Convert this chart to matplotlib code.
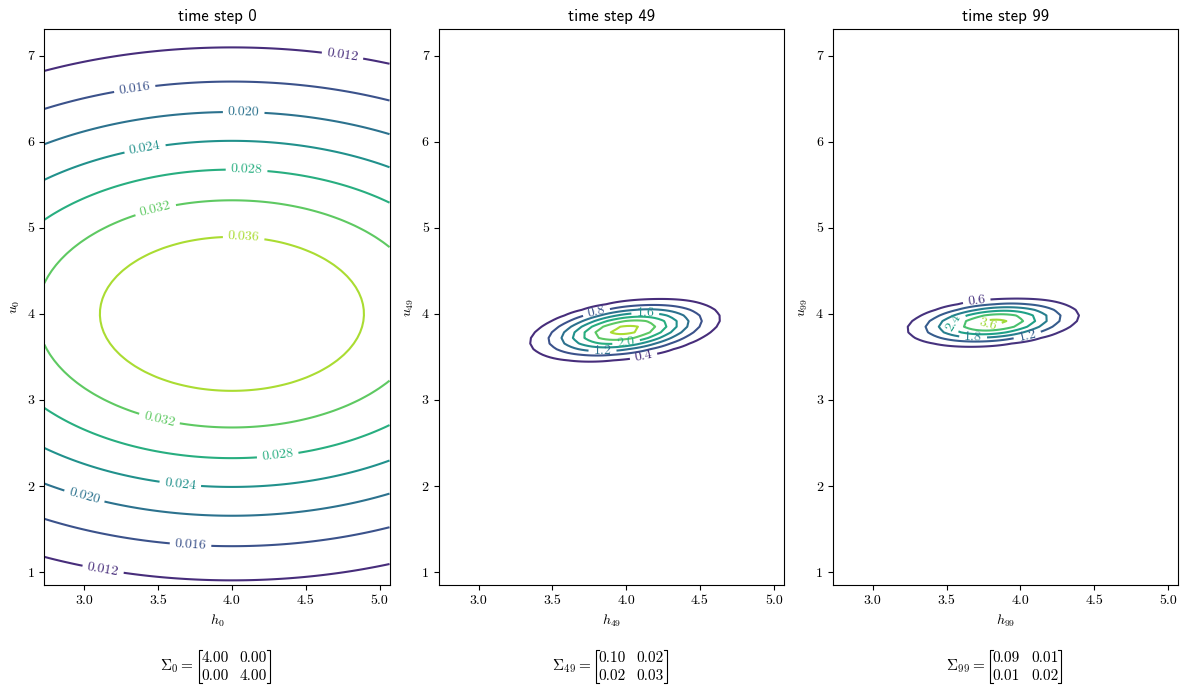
import numpy as np
import matplotlib
matplotlib.use("Agg")
import matplotlib.pyplot as plt
from matplotlib.lines import Line2D
from matplotlib.ticker import FuncFormatter

# ---- data ----
time_steps = [0, 49, 99]
means = [[4.0, 4.0], [3.993, 3.81], [3.816, 3.90]]
covariances = [
    [[4.0, 0.0], [0.0, 4.0]],
    [[0.104, 0.022], [0.022, 0.033]],
    [[0.092, 0.012], [0.012, 0.021]],
]
levels_0 = [0.008, 0.012, 0.016, 0.020, 0.024, 0.028, 0.032, 0.036, 0.040]
levels_49 = [0.0, 0.4, 0.8, 1.2, 1.6, 2.0, 2.4, 2.8, 3.2]
levels_99 = [0.0, 0.6, 1.2, 1.8, 2.4, 3.0, 3.6, 4.2]
level_formats = ["%.3f", "%.1f", "%.1f"]
h_range = (2.729, 5.068)
u_range = (0.849, 7.31)
n_grid = 100

# label placement hints (data coords) for the contour labels
label_spots = [
    [(4.75, 7.01), (3.13, 1.06), (3.34, 6.63), (3.72, 1.33), (4.08, 6.36),
     (3.0, 1.88), (3.41, 5.93), (3.65, 2.02), (4.10, 5.70), (4.31, 2.36),
     (3.48, 5.23), (3.51, 2.79), (4.08, 4.90)],
    [(3.80, 4.01), (4.13, 4.01), (3.84, 3.56), (4.12, 3.49), (4.00, 3.67)],
    [(3.705, 4.14), (3.57, 3.88), (3.68, 3.73), (3.78, 3.86), (4.05, 3.73)],
]

plt.rcParams["font.family"] = ["cmr10"]
plt.rcParams["mathtext.fontset"] = "cm"
plt.rcParams["axes.formatter.use_mathtext"] = True

fig, axes = plt.subplots(1, 3, figsize=(11.89, 6.92), dpi=100)
fig.subplots_adjust(left=0.0373, right=0.9907, top=0.958, bottom=0.1546, wspace=0.142)

h = np.linspace(h_range[0], h_range[1], n_grid)
u = np.linspace(u_range[0], u_range[1], n_grid)
H, U = np.meshgrid(h, u)

all_levels = [levels_0, levels_49, levels_99]
for ax, t, mu, cov, lev, fmt, spots in zip(axes, time_steps, means, covariances,
                                           all_levels, level_formats, label_spots):
    cov = np.array(cov)
    inv = np.linalg.inv(cov)
    det = np.linalg.det(cov)
    dx = H - mu[0]
    dy = U - mu[1]
    q = inv[0, 0] * dx * dx + 2 * inv[0, 1] * dx * dy + inv[1, 1] * dy * dy
    Z = np.exp(-0.5 * q) / (2 * np.pi * np.sqrt(det))
    cs = ax.contour(H, U, Z, levels=lev, cmap="viridis")
    ax.set_xlim(h_range)
    ax.set_ylim(u_range)
    ax.clabel(cs, inline=True, fontsize=10, fmt=fmt, manual=spots)
    ax.set_title(f"time step {t}", family="cmss10", fontsize=12)
    ax.set_xlabel(f"$h_{{{t}}}$", fontsize=10)
    ax.set_ylabel(f"$u_{{{t}}}$", fontsize=10)
    ax.xaxis.set_major_formatter(FuncFormatter(lambda v, p: f"{v:.1f}"))
    ax.yaxis.set_major_formatter(FuncFormatter(lambda v, p: f"{v:.0f}"))
    ax.set_xticks([3.0, 3.5, 4.0, 4.5, 5.0])
    ax.set_yticks([1, 2, 3, 4, 5, 6, 7])

# ---- covariance matrices below each panel ----
fig.canvas.draw()
renderer = fig.canvas.get_renderer()
W = fig.bbox.width
Hh = fig.bbox.height


def fx(px):
    return px / W


def fy(py):
    return 1 - py / Hh


fs = 11
row_base = [661.7, 680.0]
label_base = 670.0
br_top, br_bot = 649.5, 683.0
for ax, t, cov in zip(axes, time_steps, covariances):
    cov = np.array(cov)
    bb = ax.get_window_extent(renderer)
    cx = (bb.x0 + bb.x1) / 2 - 2
    lab = fig.text(0, fy(label_base), rf"$\Sigma_{{{t}}} =$", fontsize=fs,
                   ha="left", va="baseline")
    wl = lab.get_window_extent(renderer).width
    probe = fig.text(0, 0, "0.00", fontsize=fs)
    wc = probe.get_window_extent(renderer).width
    probe.remove()
    gap_l, pad, colgap = 5, 2.5, 11
    total = wl + gap_l + pad + wc + colgap + wc + pad
    x0 = cx - total / 2
    lab.set_x(fx(x0))
    xb_l = x0 + wl + gap_l
    xc1 = xb_l + pad
    xc2 = xc1 + wc + colgap
    xb_r = xc2 + wc + pad
    for r in range(2):
        fig.text(fx(xc1), fy(row_base[r]), f"{cov[r, 0]:.2f}", fontsize=fs,
                 ha="left", va="baseline")
        fig.text(fx(xc2), fy(row_base[r]), f"{cov[r, 1]:.2f}", fontsize=fs,
                 ha="left", va="baseline")
    tick = 3
    for xb, d in ((xb_l, 1), (xb_r, -1)):
        xs = [xb + d * tick, xb, xb, xb + d * tick]
        ys = [br_top, br_top, br_bot, br_bot]
        fig.add_artist(Line2D([fx(v) for v in xs], [fy(v) for v in ys],
                              transform=fig.transFigure, color="black", lw=0.8))

fig.savefig("out.png", dpi=100)
